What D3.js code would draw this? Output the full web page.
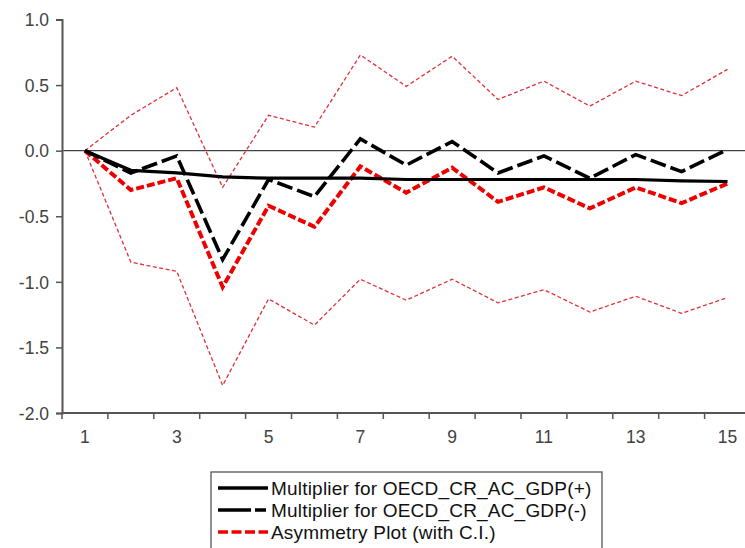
<!DOCTYPE html>
<html><head><meta charset="utf-8">
<script src="https://cdn.jsdelivr.net/npm/d3@7"></script>
<style>body{margin:0;background:#fff;} svg{display:block;}</style>
</head><body>
<svg id="c" width="745" height="548"></svg>
<script>
const periods = [1,2,3,4,5,6,7,8,9,10,11,12,13,14,15];
const xTickLabels = [1,3,5,7,9,11,13,15];
const yTicks = [1.0,0.5,0.0,-0.5,-1.0,-1.5,-2.0];
const multPos = [0,-0.15,-0.17,-0.20,-0.21,-0.21,-0.21,-0.22,-0.22,-0.22,-0.22,-0.22,-0.22,-0.23,-0.235];
const multNeg = [0,-0.17,-0.04,-0.83,-0.22,-0.35,0.09,-0.11,0.07,-0.17,-0.04,-0.21,-0.03,-0.16,0.01];
const asym = [0,-0.30,-0.21,-1.04,-0.42,-0.58,-0.12,-0.32,-0.13,-0.39,-0.28,-0.44,-0.28,-0.40,-0.25];
const ciUpper = [0,0.27,0.48,-0.28,0.27,0.18,0.73,0.49,0.72,0.39,0.53,0.34,0.53,0.42,0.62];
const ciLower = [0,-0.85,-0.92,-1.79,-1.13,-1.33,-0.98,-1.14,-0.98,-1.16,-1.06,-1.23,-1.11,-1.24,-1.12];
const legendLabels = ["Multiplier for OECD_CR_AC_GDP(+)","Multiplier for OECD_CR_AC_GDP(-)","Asymmetry Plot (with C.I.)"];

const svg = d3.select("#c");
const mLeft = 62, mTop = 19.5, mBottom = 413, bandW = 45.9;
const x = d3.scaleBand().domain(periods).range([mLeft, mLeft + bandW*periods.length]);
const y = d3.scaleLinear().domain([-2,1]).range([mBottom, mTop]);
const cx = d => x(d) + x.bandwidth()/2;
const axisColor = "#555";
const labelColor = "#424242";
const font = "'Liberation Sans', Arial, sans-serif";

// zero line
svg.append("line").attr("x1", mLeft).attr("x2", 745).attr("y1", y(0)).attr("y2", y(0))
  .attr("stroke", "#444").attr("stroke-width", 1.2);

// y axis
const ya = svg.append("g").attr("transform", `translate(${mLeft},0)`)
  .call(d3.axisLeft(y).tickValues(yTicks).tickFormat(d3.format(".1f")).tickSize(6).tickPadding(7));
ya.select(".domain").attr("stroke", axisColor).attr("stroke-width", 2);
ya.selectAll(".tick line").attr("stroke", axisColor).attr("stroke-width", 1.5);
ya.selectAll("text").attr("font-family", font).attr("font-size", 17.5).attr("fill", labelColor)
  .attr("dy", "0.36em").text(d => d.toFixed(1));

// x axis
const boundaries = periods.map(p => x(p)).concat([x(15)+x.bandwidth()]);
const xg = svg.append("g");
xg.append("line").attr("x1", mLeft).attr("x2", 745).attr("y1", mBottom).attr("y2", mBottom)
  .attr("stroke", axisColor).attr("stroke-width", 2);
xg.selectAll("line.tk").data(boundaries).join("line").attr("class","tk")
  .attr("x1", d => d).attr("x2", d => d).attr("y1", mBottom).attr("y2", mBottom + 6)
  .attr("stroke", axisColor).attr("stroke-width", 1.5);
xg.selectAll("text").data(xTickLabels).join("text")
  .attr("x", d => cx(d)).attr("y", 443).attr("text-anchor", "middle")
  .attr("font-family", font).attr("font-size", 17.5).attr("fill", labelColor).text(d => d);

const line = d3.line().x((d,i) => cx(periods[i])).y(d => y(d));

// CI bands
[ciUpper, ciLower].forEach(s => svg.append("path").attr("d", line(s)).attr("fill","none")
  .attr("stroke", "#e0303a").attr("stroke-width", 1.3).attr("stroke-dasharray", "4,2.5"));
// asymmetry
svg.append("path").attr("d", line(asym)).attr("fill","none")
  .attr("stroke", "#ee0000").attr("stroke-width", 4).attr("stroke-dasharray", "8,3");
// positive multiplier
svg.append("path").attr("d", line(multPos)).attr("fill","none")
  .attr("stroke", "#000").attr("stroke-width", 3.2);
// negative multiplier
svg.append("path").attr("d", line(multNeg)).attr("fill","none")
  .attr("stroke", "#000").attr("stroke-width", 3.6).attr("stroke-dasharray", "16,5");

// legend
const lg = svg.append("g");
lg.append("rect").attr("x", 211).attr("y", 472).attr("width", 391).attr("height", 90)
  .attr("fill", "#fff").attr("stroke", "#555").attr("stroke-width", 1.3);
const styles = [
  {stroke:"#000", w:3.5, dash:null},
  {stroke:"#000", w:3.5, dash:"33,4,11,4"},
  {stroke:"#ee0000", w:3.5, dash:"10,3.5"}
];
legendLabels.forEach((t,i) => {
  const yy = 488 + i*22;
  lg.append("line").attr("x1", 218).attr("x2", 268).attr("y1", yy).attr("y2", yy)
    .attr("stroke", styles[i].stroke).attr("stroke-width", styles[i].w)
    .attr("stroke-dasharray", styles[i].dash);
  lg.append("text").attr("x", 271).attr("y", yy + 7).attr("font-family", font)
    .attr("font-size", 19).attr("fill", "#111").attr("letter-spacing", 0.2).text(t);
});
</script>
</body></html>
